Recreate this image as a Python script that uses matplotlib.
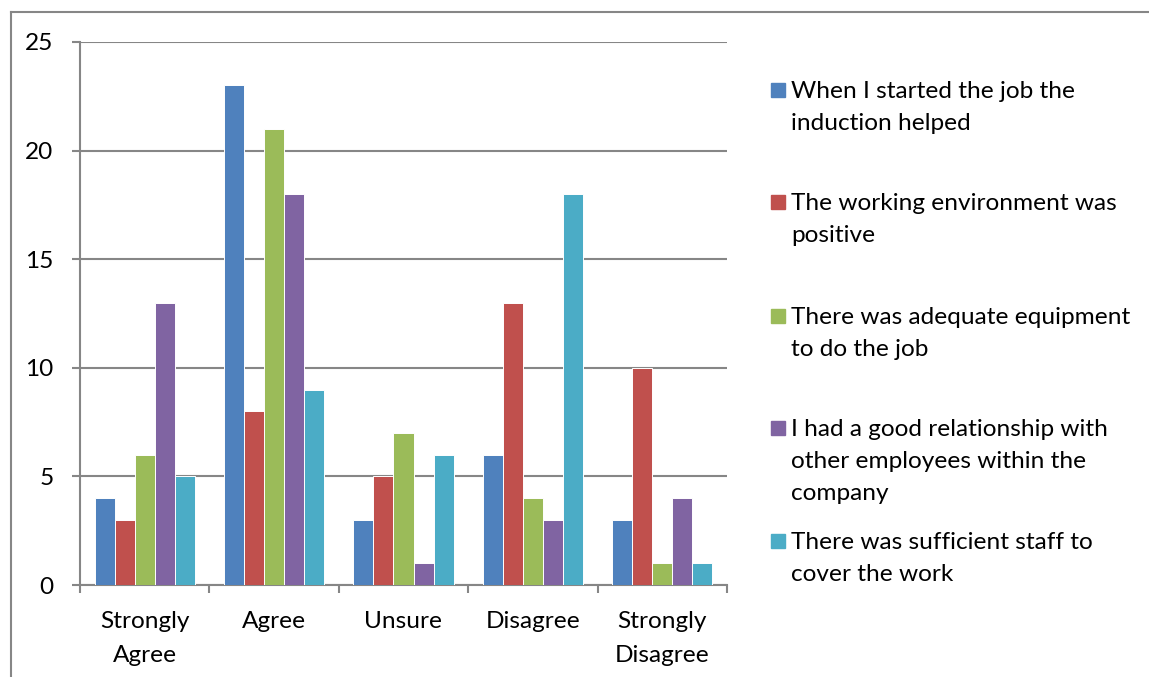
import matplotlib
matplotlib.use("Agg")
import matplotlib.pyplot as plt
import numpy as np
from matplotlib.lines import Line2D
from matplotlib.patches import Rectangle

categories = ["Strongly\nAgree", "Agree", "Unsure", "Disagree", "Strongly\nDisagree"]
series_names = [
    "When I started the job the\ninduction helped",
    "The working environment was\npositive",
    "There was adequate equipment\nto do the job",
    "I had a good relationship with\nother employees within the\ncompany",
    "There was sufficient staff to\ncover the work",
]
induction = [4, 23, 3, 6, 3]
environment = [3, 8, 5, 13, 10]
equipment = [6, 21, 7, 4, 1]
relationship = [13, 18, 1, 3, 4]
staffing = [5, 9, 6, 18, 1]
colors = ["#4F81BD", "#C0504D", "#9BBB59", "#8064A2", "#4BACC6"]
y_ticks = [0, 5, 10, 15, 20, 25]

values = [induction, environment, equipment, relationship, staffing]

W, H = 1149, 677
fig = plt.figure(figsize=(W / 100, H / 100), dpi=100)
plt.rcParams["font.family"] = ["Lato", "DejaVu Sans"]
grid_col = "#868686"
font_size = 17.6

ax = fig.add_axes([80 / W, 1 - 585 / H, (727 - 80) / W, (585 - 42) / H])

n = len(values)
bar_w = 0.1546
x = np.arange(len(categories))
for i, (vals, col) in enumerate(zip(values, colors)):
    offs = (i - (n - 1) / 2) * bar_w
    ax.bar(x + offs, vals, width=bar_w, color=col, edgecolor="white",
           linewidth=0.7, zorder=3)

ax.set_xlim(-0.5, len(categories) - 0.5)
ax.set_ylim(0, 25)
ax.set_yticks(y_ticks)
ax.yaxis.grid(True, color=grid_col, linewidth=1.5, zorder=0)
ax.set_axisbelow(True)

for side in ["top", "right"]:
    ax.spines[side].set_visible(False)
for side in ["left", "bottom"]:
    ax.spines[side].set_color(grid_col)
    ax.spines[side].set_linewidth(1.5)

ax.tick_params(axis="y", direction="out", length=6, width=1.5, color=grid_col,
               pad=13, labelsize=font_size, labelcolor="black")
ax.set_xticks(x)
ax.set_xticklabels(categories, fontsize=font_size, linespacing=1.72)
ax.tick_params(axis="x", which="major", length=0, pad=19, labelcolor="black")
ax.set_xticks(np.arange(-0.5, len(categories)), minor=True)
ax.tick_params(axis="x", which="minor", direction="out", length=6, width=1.5,
               color=grid_col)

# legend drawn as squares and wrapped labels to the right of the plot
entry_centers = [90, 202, 316, 428, 541]
for name, col, yc in zip(series_names, colors, entry_centers):
    sq = 14
    fig.patches.append(Rectangle((771 / W, 1 - (yc + sq / 2) / H), sq / W, sq / H,
                                 transform=fig.transFigure, color=col,
                                 figure=fig))
    fig.text(791 / W, 1 - (yc - 9) / H, name, fontsize=font_size, va="top",
             ha="left", linespacing=1.66)

# outer chart frame (top and left edges)
fig.add_artist(Line2D([11 / W, 1], [1 - 12 / H, 1 - 12 / H], color=grid_col,
                      linewidth=1.5, transform=fig.transFigure))
fig.add_artist(Line2D([11 / W, 11 / W], [0, 1 - 12 / H], color=grid_col,
                      linewidth=1.5, transform=fig.transFigure))

fig.savefig("out.png", dpi=100)
